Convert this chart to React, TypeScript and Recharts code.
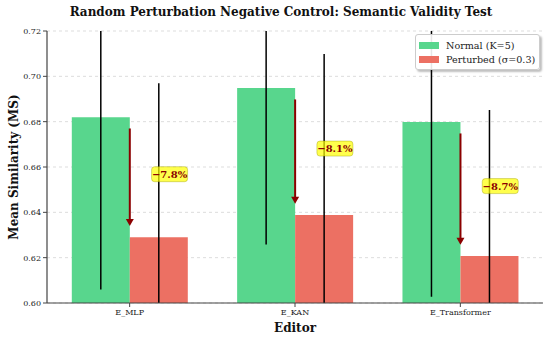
import React from "react";
import { ComposedChart, Bar, XAxis, YAxis, CartesianGrid, ErrorBar, LabelList } from "recharts";

const editors = ["E_MLP", "E_KAN", "E_Transformer"];
const normalMS = [0.682, 0.6948, 0.6798];
const normalErr = [0.076, 0.069, 0.077];
const perturbedMS = [0.629, 0.6388, 0.6207];
const perturbedErr = [0.068, 0.071, 0.0645];
const dropLabels = ["−7.8%", "−8.1%", "−8.7%"];
const yTicks = [0.6, 0.62, 0.64, 0.66, 0.68, 0.7, 0.72];
const seriesNames = ["Normal (K=5)", "Perturbed (σ=0.3)"];

const Y_DOMAIN: [number, number] = [0.6, 0.72];
const ARROW_INSET = 0.005;
const GREEN = "#58d68d";
const RED = "#ec7063";
const ARROW = "#8b0000";
const SPINE = "#444";
const FONT = "'DejaVu Serif', serif";

const data = editors.map((editor, i) => ({
  editor,
  normal: normalMS[i],
  normalErr: normalErr[i],
  perturbed: perturbedMS[i],
  perturbedErr: perturbedErr[i],
}));

// arrow + drop label, drawn on the perturbed bar
function DropMarker(props: any) {
  const { x, y, width, height, index } = props;
  const i = typeof index === "number" ? index : 0;
  const n = normalMS[i];
  const p = perturbedMS[i];
  const base = Number(y) + Number(height);
  const pxPerUnit = Number(height) / (p - Y_DOMAIN[0]);
  const toPx = (v: number) => base - (v - Y_DOMAIN[0]) * pxPerUnit;
  const cx = Number(x);
  const yStart = toPx(n - ARROW_INSET);
  const yEnd = toPx(p + ARROW_INSET);
  const head = 7;
  const lx = cx + Number(width) * 0.686;
  const ly = toPx((n + p) / 2) - 3;
  return (
    <g>
      <line x1={cx} y1={yStart} x2={cx} y2={yEnd - head + 1} stroke={ARROW} strokeWidth={2} />
      <polygon points={`${cx - 4},${yEnd - head} ${cx + 4},${yEnd - head} ${cx},${yEnd}`} fill={ARROW} />
      <rect x={lx - 18} y={ly - 7.5} width={36} height={15} rx={3} fill="#ffff00" fillOpacity={0.7} stroke="#9a9a00" strokeOpacity={0.4} />
      <text x={lx} y={ly} textAnchor="middle" dominantBaseline="central" fontSize={10} fontWeight="bold" fill={ARROW} fontFamily={FONT}>
        {dropLabels[i]}
      </text>
    </g>
  );
}

function LegendBox() {
  const colors = [GREEN, RED];
  return (
    <div
      style={{
        position: "absolute",
        left: 415,
        top: 34,
        border: "1px solid #ccc",
        borderRadius: 3,
        background: "rgba(255,255,255,0.9)",
        boxShadow: "2px 2px 2px rgba(0,0,0,0.25)",
        padding: "3px 4px 3px 3px",
        fontSize: 9.6,
        color: "#222",
        whiteSpace: "nowrap",
        zIndex: 2,
      }}
    >
      {seriesNames.map((name, i) => (
        <div key={name} style={{ display: "flex", alignItems: "center", height: 14 }}>
          <span style={{ display: "inline-block", width: 20, height: 7, background: colors[i], marginRight: 7 }} />
          {name}
        </div>
      ))}
    </div>
  );
}

export default function App() {
  return (
    <div style={{ position: "absolute", left: 0, top: 0, width: 550, height: 340, background: "#fff", fontFamily: FONT }}>
      <style>{`.recharts-errorBars { clip-path: url(#clipPath-ms-normal); }`}</style>
      <div
        style={{
          position: "absolute",
          left: 0,
          width: 562,
          top: 5,
          textAlign: "center",
          fontSize: 12,
          fontWeight: "bold",
          color: "#111",
          zIndex: 2,
        }}
      >
        Random Perturbation Negative Control: Semantic Validity Test
      </div>
      <ComposedChart width={550} height={340} data={data} margin={{ top: 31, right: 7, left: 0, bottom: 0 }} barCategoryGap="15%" barGap={0}>
        <CartesianGrid horizontal vertical={false} stroke="#ddd" strokeDasharray="3 3" />
        <XAxis
          dataKey="editor"
          height={37}
          axisLine={{ stroke: SPINE, strokeWidth: 1.2 }}
          tickLine={{ stroke: SPINE }}
          tickSize={4}
          tick={{ fontSize: 8, fill: "#222", fontFamily: FONT }}
          label={{ value: "Editor", position: "insideBottom", offset: 8, style: { fontSize: 12, fontWeight: "bold", fill: "#111", fontFamily: FONT } }}
        />
        <XAxis xAxisId="top" dataKey="editor" orientation="top" height={0} tick={false} tickLine={false} axisLine={{ stroke: SPINE, strokeWidth: 1.2 }} />
        <YAxis
          width={47}
          domain={Y_DOMAIN}
          ticks={yTicks}
          allowDataOverflow
          axisLine={{ stroke: SPINE, strokeWidth: 1.2 }}
          tickLine={{ stroke: SPINE }}
          tickSize={4}
          tickFormatter={(v: number) => v.toFixed(2)}
          tick={{ fontSize: 8, fill: "#222", fontFamily: FONT }}
          label={{
            content: (p: any) => {
              const vb = p.viewBox || {};
              const cx = (vb.x || 0) + 14;
              const cy = (vb.y || 0) + (vb.height || 0) / 2;
              return (
                <text x={cx} y={cy} transform={`rotate(-90 ${cx} ${cy})`} textAnchor="middle" dominantBaseline="central" fontSize={12} fontWeight="bold" fill="#111" fontFamily={FONT}>
                  Mean Similarity (MS)
                </text>
              );
            },
          }}
        />
        <YAxis yAxisId="right" orientation="right" width={0} domain={Y_DOMAIN} ticks={yTicks} tick={false} tickLine={false} axisLine={{ stroke: SPINE, strokeWidth: 1.2 }} />
        <Bar id="ms-normal" dataKey="normal" name={seriesNames[0]} fill={GREEN} isAnimationActive={false}>
          <ErrorBar dataKey="normalErr" width={0} stroke="#000" strokeWidth={1.5} direction="y" />
        </Bar>
        <Bar id="ms-perturbed" dataKey="perturbed" name={seriesNames[1]} fill={RED} isAnimationActive={false}>
          <ErrorBar dataKey="perturbedErr" width={0} stroke="#000" strokeWidth={1.5} direction="y" />
          <LabelList content={<DropMarker />} />
        </Bar>
      </ComposedChart>
      <LegendBox />
    </div>
  );
}
